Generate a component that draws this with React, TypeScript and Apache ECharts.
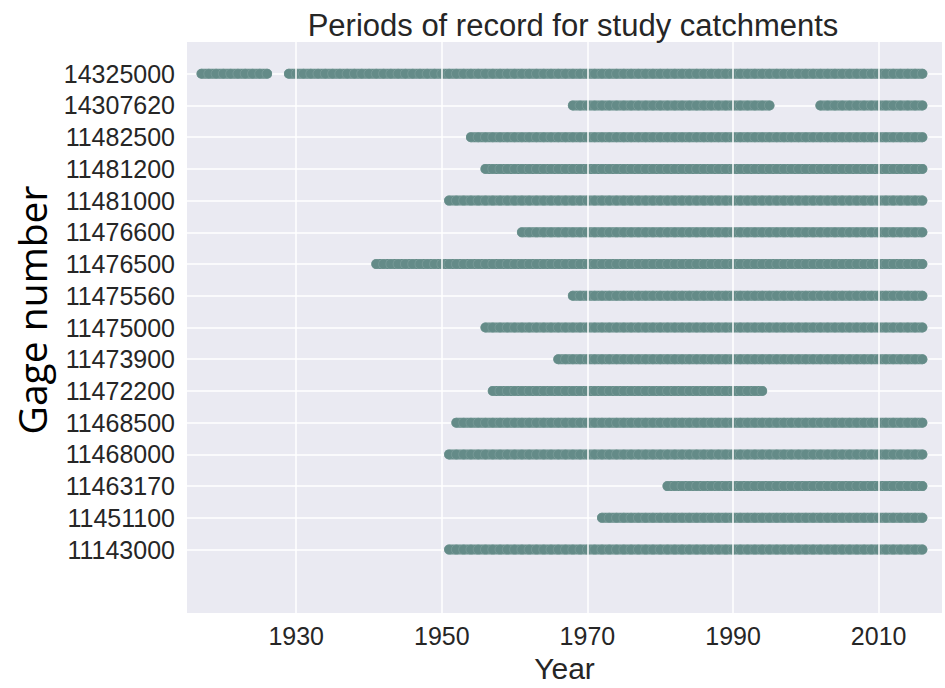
import React, { useEffect, useRef } from "react";
import * as echarts from "echarts";

// Gage numbers, bottom to top
const gages = [
  "11143000", "11451100", "11463170", "11468000", "11468500", "11472200",
  "11473900", "11475000", "11475560", "11476500", "11476600", "11481000",
  "11481200", "11482500", "14307620", "14325000",
];
// Periods of record (first year, last year) for each gage, same order
const periods: number[][][] = [
  [[1951, 2016]],
  [[1972, 2016]],
  [[1981, 2016]],
  [[1951, 2016]],
  [[1952, 2016]],
  [[1957, 1994]],
  [[1966, 2016]],
  [[1956, 2016]],
  [[1968, 2016]],
  [[1941, 2016]],
  [[1961, 2016]],
  [[1951, 2016]],
  [[1956, 2016]],
  [[1954, 2016]],
  [[1968, 1995], [2002, 2016]],
  [[1917, 1926], [1929, 2016]],
];
const xTicks = [1930, 1950, 1970, 1990, 2010];
const xMin = 1915;
const xMax = 2018.7;

export default function App() {
  const ref = useRef<HTMLDivElement>(null);
  useEffect(() => {
    if (!ref.current) return;
    const chart = echarts.init(ref.current, null, { renderer: "svg" });
    const cats = ["", "", ...gages, ""];
    const color = "#648b88";
    const pts: number[][] = [];
    const lineData: (number[] | string)[] = [];
    periods.forEach((ps, i) => {
      ps.forEach(([a, b]) => {
        lineData.push([a, i + 2], [b, i + 2], "-");
        for (let y = a; y <= b; y++) pts.push([y, i + 2]);
      });
    });
    const font = "'Liberation Sans', Arial, sans-serif";
    chart.setOption({
      animation: false,
      backgroundColor: "#ffffff",
      title: {
        text: "Periods of record for study catchments",
        left: 568,
        top: 5,
        textAlign: "center",
        textStyle: { fontFamily: font, fontSize: 31, fontWeight: "normal", color: "#262626" },
      },
      graphic: [
        {
          type: "text",
          x: 31,
          y: 310,
          rotation: Math.PI / 2,
          style: {
            text: "Gage number",
            fontFamily: "'Open Sans', sans-serif",
            fontSize: 39,
            fill: "#000000",
            align: "center",
            verticalAlign: "middle",
          },
        },
      ],
      grid: { left: 187, right: 2, top: 42, bottom: 72, backgroundColor: "#EAEAF2", show: true, borderWidth: 0 },
      xAxis: {
        type: "value",
        min: xMin,
        max: xMax,
        interval: 5,
        name: "Year",
        nameLocation: "middle",
        nameGap: 40,
        nameTextStyle: { fontFamily: font, fontSize: 30, color: "#262626" },
        axisLine: { show: false },
        axisTick: { show: false },
        splitLine: { show: false },
        axisLabel: {
          margin: 10,
          fontFamily: font,
          fontSize: 25,
          color: "#262626",
          formatter: (v: number) => (xTicks.includes(v) ? String(v) : ""),
        },
      },
      yAxis: {
        type: "category",
        data: cats,
        boundaryGap: false,
        axisLine: { show: false },
        axisTick: { show: false },
        axisLabel: {
          interval: 0,
          margin: 12,
          fontFamily: font,
          fontSize: 25,
          color: "#262626",
        },
        splitLine: {
          show: true,
          interval: (idx: number, val: string) => val !== "",
          lineStyle: { color: "#ffffff", width: 1.5 },
        },
      },
      series: [
        {
          type: "scatter",
          data: [],
          z: 1,
          silent: true,
          markLine: {
            silent: true,
            symbol: "none",
            label: { show: false },
            lineStyle: { color: "#ffffff", width: 1.5, type: "solid" },
            data: xTicks.map((v) => ({ xAxis: v })),
          },
        },
        {
          type: "line",
          z: 2,
          data: lineData,
          showSymbol: false,
          symbol: "none",
          connectNulls: false,
          lineStyle: { color, width: 10, cap: "round" },
          silent: true,
        },
        {
          type: "scatter",
          z: 3,
          symbolSize: 10,
          data: pts,
          itemStyle: { color, borderColor: "rgba(235,240,240,0.22)", borderWidth: 0.6, opacity: 1 },
        },
      ],
    });
    return () => chart.dispose();
  }, []);
  return <div ref={ref} style={{ width: 945, height: 688, position: "absolute", left: 0, top: 0 }} />;
}
